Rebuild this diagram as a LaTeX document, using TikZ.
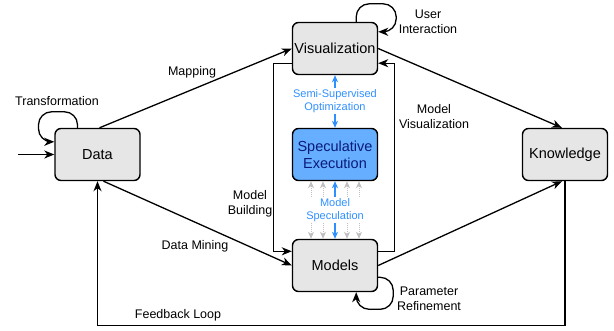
\documentclass[tikz,border=0pt]{standalone}
\usepackage{fontspec}
\setmainfont{Liberation Sans}
\usetikzlibrary{arrows.meta,calc}
\definecolor{boxgray}{HTML}{E6E6E6}
\definecolor{specblue}{HTML}{66AEFF}
\definecolor{spectext}{HTML}{0A1A7A}
\definecolor{linkblue}{HTML}{2F8FFF}
\definecolor{dotgray}{HTML}{C0C0C0}
\tikzset{
  box/.style={draw=black, line width=1.4pt, fill=boxgray, rounded corners=6pt,
    minimum width=85pt, minimum height=52pt, inner sep=0pt, align=center,
    font=\fontsize{14.5}{17}\selectfont},
  specbox/.style={box, fill=specblue, text=spectext},
  arr/.style={line width=1.3pt, -{Stealth[length=10pt,width=8pt,inset=3pt]}},
  barr/.style={draw=linkblue, line width=1.2pt, -{Stealth[length=7pt,width=6pt,inset=2pt]}},
  garr/.style={draw=dotgray, line width=1pt, densely dotted, -{Stealth[length=7pt,width=6pt,inset=2pt]}},
  lbl/.style={font=\fontsize{12.5}{15}\selectfont, align=center, inner sep=1pt},
  blbl/.style={font=\fontsize{11}{13}\selectfont, text=linkblue, align=center, inner sep=1pt},
}
\begin{document}
\begin{tikzpicture}[x=1pt,y=-1pt]
\useasboundingbox (0,0) rectangle (614,330);
% nodes
\node[box] (data) at (97.5,154.5) {Data};
\node[box] (vis) at (335,48.5) {Visualization};
\node[specbox] (spec) at (335,154.5) {Speculative\\Execution};
\node[box] (mod) at (335,265.5) {Models};
\node[box] (kn) at (565,154.5) {Knowledge};
% labels
\node[lbl] (lTrans) at (57,101) {Transformation};
\node[lbl] (lMap) at (192,72) {Mapping};
\node[lbl] (lMine) at (195,246) {Data Mining};
\node[lbl] (lBuild) at (250,204) {Model\\Building};
\node[lbl] (lMVis) at (434,117) {Model\\Visualization};
\node[lbl] (lUser) at (428,22) {User\\Interaction};
\node[lbl] (lParam) at (429,299) {Parameter\\Refinement};
\node[lbl] (lFeed) at (178,315) {Feedback Loop};
\node[blbl] (sso) at (335,101) {Semi-Supervised\\Optimization};
\node[blbl] (msp) at (335,210) {Model\\Speculation};
% input arrow
\coordinate (in) at (18,154.5);
\draw[arr] (in) -- (data.west);
% transformation loop
\draw[arr, rounded corners=13pt] ($(data.north)+(-20,0)$) -- ++(0,-16) -- ++(-39,0) -- ++(0,30) -- ($(data.north west)+(0,14)$);
% mapping, data mining
\draw[arr] ([xshift=2pt]data.north) -- (vis.west);
\draw[arr] ([xshift=6pt]data.south) -- (mod.west);
% model building
\draw[arr] ($(vis.south west)+(0,-12)$) -- ++(-18,0) |- ($(mod.north west)+(0,12.5)$);
% model visualization
\draw[arr] ($(mod.north east)+(0,12.5)$) -- ++(16,0) |- ($(vis.south east)+(0,-12)$);
% user interaction loop
\draw[arr, rounded corners=13pt] ($(vis.north east)+(-22,0)$) -- ++(0,-18) -- ++(40,0) -- ++(0,28) -- ($(vis.north east)+(0,10)$);
% parameter refinement loop
\draw[arr, rounded corners=13pt] ($(mod.north east)+(0,38.5)$) -- ++(15,0) -- ++(0,32) -- ++(-37,0) -- ($(mod.south east)+(-22,0)$);
% knowledge
\draw[arr] (vis.east) -- ([xshift=-3pt]kn.north);
\draw[arr] (mod.east) -- ([xshift=-3pt]kn.south);
% feedback loop
\draw[arr] (kn.south) -- ++(0,144.5) -| (data.south);
% blue arrows
\draw[barr] (sso.north) -- (vis.south);
\draw[barr] (sso.south) -- (spec.north);
\draw[barr] (msp.north) -- (spec.south);
\draw[barr] (msp.south) -- (mod.north);
% gray dotted arrows
\foreach \dx in {-24,-12,12,24}{
  \draw[garr] ($(spec.south)+(\dx,16)$) -- ($(spec.south)+(\dx,0)$);
  \draw[garr] ($(mod.north)+(\dx,-16)$) -- ($(mod.north)+(\dx,0)$);
}
\end{tikzpicture}
\end{document}
